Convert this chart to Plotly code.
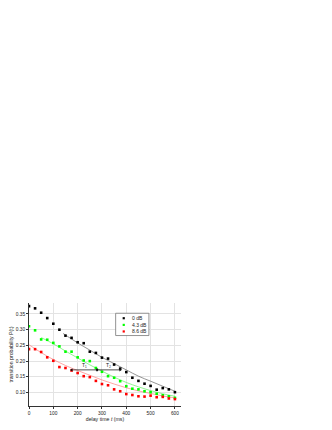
import plotly.graph_objects as go

# ---- data ----
delay_ms = [0, 25, 50, 75, 100, 125, 150, 175, 200, 225, 250, 275, 300,
            325, 350, 375, 400, 425, 450, 475, 500, 525, 550, 575, 600]

p_0dB = [0.375, 0.368, 0.354, 0.337, 0.319, 0.300, 0.281, 0.274, 0.260,
         0.257, 0.230, 0.226, 0.211, 0.208, 0.189, 0.176, 0.165, 0.147,
         0.137, 0.128, 0.121, 0.109, 0.114, 0.110, 0.101]

p_4dB = [0.311, 0.298, 0.269, 0.268, 0.258, 0.247, 0.230, 0.230, 0.212,
         0.202, 0.200, 0.178, 0.166, 0.152, 0.147, 0.136, 0.120, 0.112,
         0.110, 0.104, 0.101, 0.096, 0.091, 0.088, 0.083]

p_8dB = [0.238, 0.238, 0.229, 0.212, 0.201, 0.181, 0.178, 0.170, 0.162,
         0.152, 0.149, 0.137, 0.127, 0.123, 0.110, 0.104, 0.095, 0.092,
         0.088, 0.087, 0.090, 0.085, 0.086, 0.081, 0.079]

# fitted curves
fit0_t = [140, 200, 250, 300, 350, 400, 450, 500, 550, 600]
fit0_p = [0.288, 0.258, 0.235, 0.212, 0.192, 0.172, 0.152, 0.136, 0.120, 0.104]
fit4_t = [50, 100, 150, 200, 250, 300, 350, 400, 450, 500, 550, 600]
fit4_p = [0.275, 0.255, 0.232, 0.210, 0.188, 0.168, 0.149, 0.132, 0.118, 0.106, 0.096, 0.088]
fit8_t = [0, 50, 100, 150, 200, 250, 300, 350, 400, 450, 500, 550, 600]
fit8_p = [0.252, 0.227, 0.205, 0.186, 0.170, 0.155, 0.140, 0.127, 0.115, 0.105, 0.097, 0.089, 0.083]

series_names = ["0 dB", "4.3 dB", "8.6 dB"]
series_colors = ["#000000", "#00ff00", "#ff0000"]
fit_colors = ["#666666", "#66ee66", "#ff8080"]

# T interval markers
t_marks = [175, 280, 375]
t_level = 0.172
t_labels = ["T₁", "T₂"]

x_ticks = [0, 100, 200, 300, 400, 500, 600]
y_ticks = [0.10, 0.15, 0.20, 0.25, 0.30, 0.35]

FONT = "Liberation Sans, Arial, sans-serif"
BODY = 8  # html body margin offset

fig = go.Figure()

for ft, fp, c in [(fit0_t, fit0_p, fit_colors[0]),
                  (fit4_t, fit4_p, fit_colors[1]),
                  (fit8_t, fit8_p, fit_colors[2])]:
    fig.add_trace(go.Scatter(x=ft, y=fp, mode="lines", line=dict(color=c, width=0.7, shape="spline"),
                             showlegend=False, hoverinfo="skip"))

for name, vals, c in zip(series_names, [p_0dB, p_4dB, p_8dB], series_colors):
    fig.add_trace(go.Scatter(x=delay_ms, y=vals, mode="markers", name=name,
                             marker=dict(symbol="square", size=2.6, color=c, line=dict(width=0)),
                             showlegend=False))

# T interval arrows
for i in range(2):
    fig.add_trace(go.Scatter(x=[t_marks[i], t_marks[i + 1]], y=[t_level, t_level],
                             mode="lines+markers", line=dict(color="#222222", width=0.8),
                             marker=dict(symbol=["triangle-left", "triangle-right"], size=3,
                                         color="#111111", line=dict(width=0)),
                             showlegend=False, hoverinfo="skip"))

annotations = []
for i in range(2):
    annotations.append(dict(x=(t_marks[i] + t_marks[i + 1]) / 2, y=t_level, xref="x", yref="y",
                            text=t_labels[i], showarrow=False, yanchor="bottom", yshift=0,
                            font=dict(size=5, color="#222222", family=FONT)))

# plot area in page pixels
x_plot0, x_plot1 = 29.3, 181.4
y_plot0, y_plot1 = 303.0, 406.5
def px_x(p):
    return (p - x_plot0) / (x_plot1 - x_plot0)
def px_y(p):
    return (y_plot1 - p) / (y_plot1 - y_plot0)

shapes = [dict(type="rect", xref="paper", yref="paper",
               x0=px_x(116), x1=px_x(149.3), y0=px_y(335.7), y1=px_y(313.3),
               line=dict(color="#777777", width=0.8), fillcolor="white", layer="above")]
leg_y = [318.3, 325.0, 331.6]
for name, c, ly in zip(series_names, series_colors, leg_y):
    shapes.append(dict(type="rect", xref="paper", yref="paper",
                       x0=px_x(123.0), x1=px_x(125.2), y0=px_y(ly + 1.1), y1=px_y(ly - 1.1),
                       line=dict(width=0), fillcolor=c, layer="above"))
    annotations.append(dict(x=px_x(130.2), y=px_y(ly), xref="paper", yref="paper",
                            text=name, showarrow=False, xanchor="left", yanchor="middle",
                            font=dict(size=5, color="#222222", family=FONT)))

W, H = 332, 430
fig.update_layout(
    width=W, height=H, autosize=False,
    margin=dict(l=x_plot0 - BODY, r=W - (x_plot1 - BODY), t=y_plot0 - BODY,
                b=H - (y_plot1 - BODY), pad=0),
    paper_bgcolor="white", plot_bgcolor="white",
    font=dict(family=FONT, size=5, color="#222222"),
    shapes=shapes, annotations=annotations, showlegend=False,
)
fig.update_xaxes(range=[0, 625], tickvals=x_ticks, ticktext=[str(v) for v in x_ticks],
                 showgrid=True, gridcolor="#e3e3e3", gridwidth=0.8, zeroline=False,
                 showline=True, linecolor="#333333", linewidth=0.8,
                 ticks="outside", ticklen=2, tickwidth=0.8, tickcolor="#333333",
                 tickfont=dict(size=4.8), automargin=False,
                 title=dict(text="delay time <i>t</i> (ms)", font=dict(size=5.2), standoff=1))
fig.update_yaxes(range=[0.057, 0.385], tickvals=y_ticks, ticktext=[f"{v:.2f}" for v in y_ticks],
                 showgrid=True, gridcolor="#e3e3e3", gridwidth=0.8, zeroline=False,
                 showline=True, linecolor="#333333", linewidth=0.8,
                 ticks="outside", ticklen=2, tickwidth=0.8, tickcolor="#333333",
                 tickfont=dict(size=4.8), automargin=False,
                 title=dict(text="transition probability P(t)", font=dict(size=5.2), standoff=4))

fig.write_html("out.html")
